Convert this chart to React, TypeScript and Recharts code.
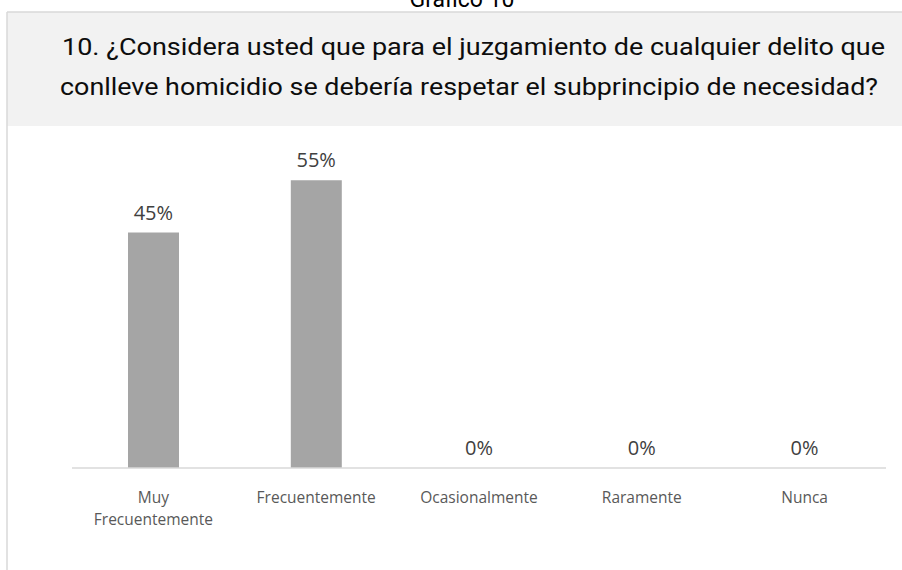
import React from "react";
import { ComposedChart, Bar, Line, XAxis, YAxis, LabelList, Text } from "recharts";

const categories: string[] = ["Muy Frecuentemente", "Frecuentemente", "Ocasionalmente", "Raramente", "Nunca"];
const values: number[] = [0.45, 0.55, 0, 0, 0];
const titleLines: string[] = [
  "10. ¿Considera usted que para el juzgamiento de cualquier delito que",
  "conlleve homicidio se debería respetar el subprincipio de necesidad?",
];
const captionText = "Gráfico 10";

const data = categories.map((c, i) => ({ name: c, value: values[i] }));

const pct = (v: number) => `${Math.round(v * 100)}%`;

const titleFont = "Roboto, 'Open Sans', sans-serif";

const Tick = (props: any) => {
  const { x, y, payload } = props;
  return (
    <Text
      x={x}
      y={y}
      width={140}
      textAnchor="middle"
      verticalAnchor="start"
      lineHeight={22}
      fill="#595959"
      style={{ fontFamily: "'Open Sans', sans-serif", fontSize: 15.5 }}
    >
      {payload.value}
    </Text>
  );
};

export default function App() {
  return (
    <div style={{ position: "absolute", left: 0, top: 0, width: 902, height: 570, background: "#fff", overflow: "hidden" }}>
      <svg width={902} height={570} style={{ position: "absolute", left: 0, top: 0 }}>
        <text x={462} y={7} textAnchor="middle" fontFamily={titleFont} fontSize={23} fill="#000">
          {captionText}
        </text>
        <rect x={7} y={12} width={900} height={114} fill="#f2f2f2" />
        <line x1={7} y1={12} x2={902} y2={12} stroke="#d9d9d9" strokeWidth={1.5} />
        <line x1={7} y1={12} x2={7} y2={570} stroke="#d9d9d9" strokeWidth={1.5} />
        <text x={62} y={55} textLength={823} lengthAdjust="spacingAndGlyphs" fontFamily={titleFont} fontSize={23} fill="#0d0d0d">
          {titleLines[0]}
        </text>
        <text x={60} y={95} textLength={818} lengthAdjust="spacingAndGlyphs" fontFamily={titleFont} fontSize={23} fill="#0d0d0d">
          {titleLines[1]}
        </text>
      </svg>
      <div style={{ position: "absolute", left: 0, top: 0 }}>
        <ComposedChart width={902} height={570} data={data} margin={{ top: 154, right: 16, bottom: 42, left: 72 }}>
          <YAxis hide domain={[0, 0.6]} />
          <XAxis
            dataKey="name"
            height={60}
            tickLine={false}
            axisLine={{ stroke: "#d9d9d9", strokeWidth: 1.5 }}
            tick={<Tick />}
            tickMargin={18}
            interval={0}
          />
          <Bar dataKey="value" fill="#a5a5a5" barSize={51} isAnimationActive={false} />
          <Line
            dataKey="value"
            stroke="none"
            dot={false}
            activeDot={false}
            legendType="none"
            isAnimationActive={false}
          >
            <LabelList
              dataKey="value"
              position="top"
              offset={13}
              formatter={(v: any) => pct(Number(v))}
              style={{ fontFamily: "'Open Sans', sans-serif", fontSize: 20, fill: "#404040" }}
            />
          </Line>
        </ComposedChart>
      </div>
    </div>
  );
}
